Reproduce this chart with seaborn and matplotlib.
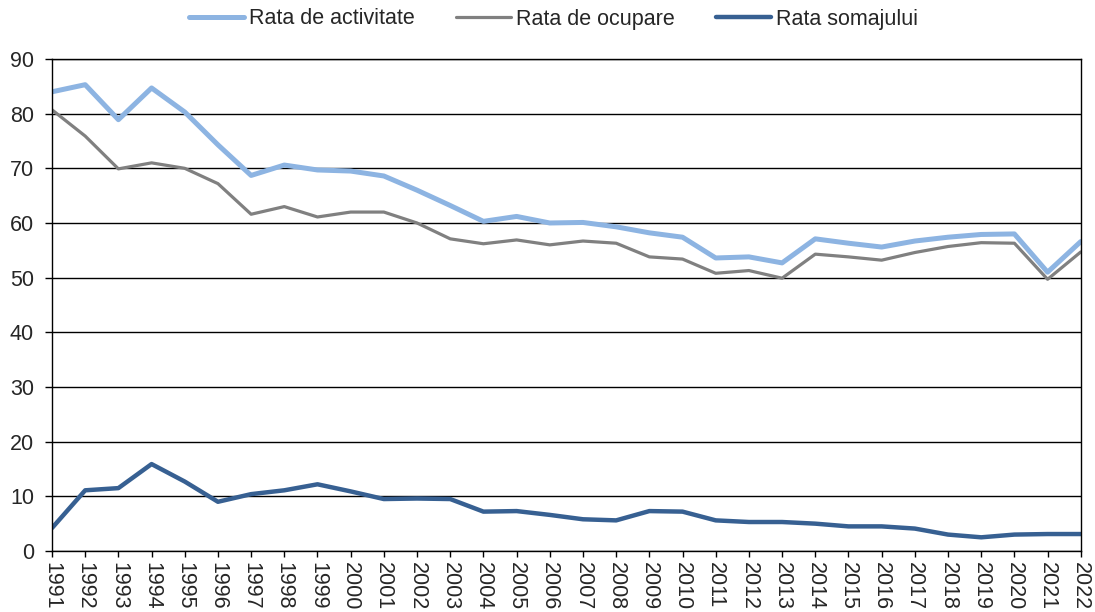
import pandas as pd
import seaborn as sns
import matplotlib.pyplot as plt

years = list(range(1991, 2023))

rata_activitate = [84.0, 85.3, 78.9, 84.7, 80.3, 74.3, 68.7, 70.6, 69.7, 69.5,
                   68.6, 66.0, 63.2, 60.3, 61.2, 60.0, 60.1, 59.3, 58.2, 57.4,
                   53.6, 53.8, 52.7, 57.1, 56.3, 55.6, 56.7, 57.4, 57.9, 58.0,
                   51.0, 56.6]
rata_ocupare = [80.7, 75.9, 69.9, 71.0, 70.0, 67.2, 61.6, 63.0, 61.1, 62.0,
                62.0, 60.0, 57.1, 56.2, 56.9, 56.0, 56.7, 56.3, 53.8, 53.4,
                50.8, 51.3, 49.9, 54.3, 53.8, 53.2, 54.6, 55.7, 56.4, 56.3,
                49.7, 54.7]
rata_somaj = [4.2, 11.1, 11.5, 15.9, 12.7, 9.0, 10.4, 11.1, 12.2, 10.9,
              9.5, 9.6, 9.5, 7.2, 7.3, 6.6, 5.8, 5.6, 7.3, 7.2,
              5.6, 5.3, 5.3, 5.0, 4.5, 4.5, 4.1, 3.0, 2.5, 3.0,
              3.1, 3.1]

df = pd.DataFrame({"An": years,
                   "Rata de activitate": rata_activitate,
                   "Rata de ocupare": rata_ocupare,
                   "Rata somajului": rata_somaj})
long = df.melt(id_vars="An", var_name="serie", value_name="valoare")

sns.set_style("white")
plt.rcParams['font.family'] = ['Liberation Sans', 'DejaVu Sans']

fig = plt.figure(figsize=(10.95, 6.12), dpi=100)
ax = fig.add_axes([0.0475, 0.0997, 0.9395, 0.8039])

palette = {"Rata de activitate": "#8db4e2",
           "Rata de ocupare": "#808080",
           "Rata somajului": "#376092"}
widths = {"Rata de activitate": 3.6, "Rata de ocupare": 2.3, "Rata somajului": 3.2}

for name in ["Rata de activitate", "Rata de ocupare", "Rata somajului"]:
    sub = long[long["serie"] == name]
    sns.lineplot(data=sub, x="An", y="valoare", color=palette[name],
                 linewidth=widths[name], label=name, ax=ax,
                 solid_joinstyle="round", solid_capstyle="round")

ax.set_xlim(1991, 2022)
ax.set_ylim(0, 90)
ax.set_yticks(range(0, 91, 10))
ax.set_xticks(years)
ax.set_xticklabels([str(y) for y in years], rotation=270, fontsize=15.5)
ax.tick_params(axis="y", labelsize=15.5, length=5, width=1, direction="out",
               color="black", left=True, pad=8)
ax.tick_params(axis="x", length=4.5, width=1, direction="out", color="black",
               bottom=True, pad=3.5)
ax.set_xlabel("")
ax.set_ylabel("")
ax.grid(axis="y", color="black", linewidth=1)
ax.grid(axis="x", visible=False)
ax.set_axisbelow(True)
for s in ax.spines.values():
    s.set_color("black")
    s.set_linewidth(1)

handles, labels = ax.get_legend_handles_labels()
ax.get_legend().remove()
fig.legend(handles, labels, loc="center", bbox_to_anchor=(553.5 / 1095, 1 - 19 / 612),
           ncol=3, frameon=False, fontsize=15.5, handlelength=2.55,
           handletextpad=0.25, columnspacing=1.9, borderaxespad=0, borderpad=0)

fig.savefig("out.png", dpi=100)
